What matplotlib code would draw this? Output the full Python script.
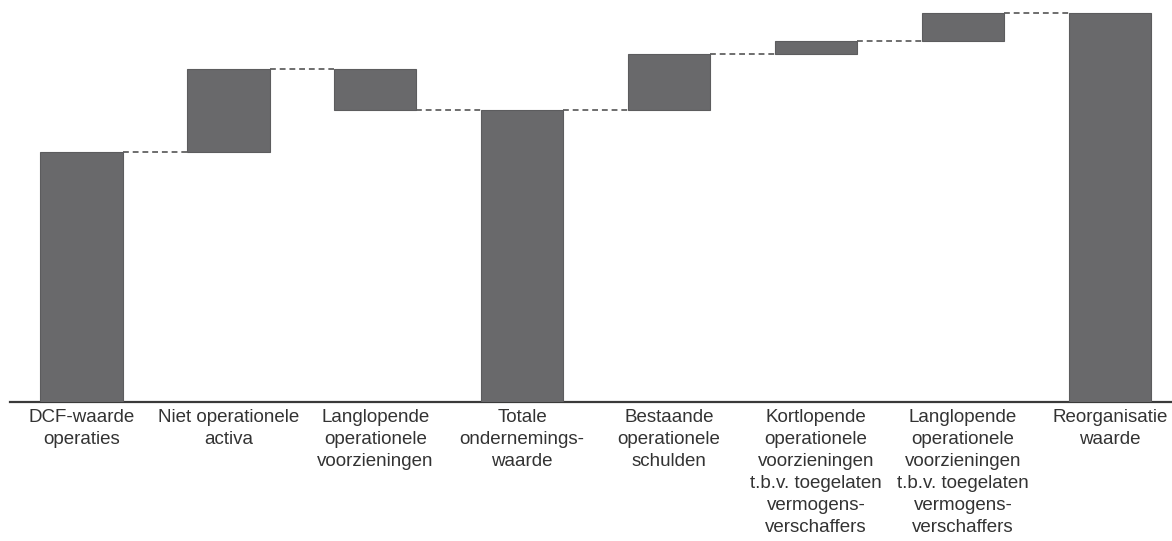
import matplotlib.pyplot as plt
import numpy as np

plt.rcParams['font.family'] = ['Liberation Sans', 'DejaVu Sans']

# Waterfall data (arbitrary units)
labels = [
    "DCF-waarde\noperaties",
    "Niet operationele\nactiva",
    "Langlopende\noperationele\nvoorzieningen",
    "Totale\nondernemings-\nwaarde",
    "Bestaande\noperationele\nschulden",
    "Kortlopende\noperationele\nvoorzieningen\nt.b.v. toegelaten\nvermogens-\nverschaffers",
    "Langlopende\noperationele\nvoorzieningen\nt.b.v. toegelaten\nvermogens-\nverschaffers",
    "Reorganisatie\nwaarde",
]
changes = [250, 83, -41, None, 56, 13, 28, None]   # None = subtotal bar

# Build bottoms/heights from the running total
bottoms, heights, levels = [], [], []
running = 0
for c in changes:
    if c is None:
        bottoms.append(0)
        heights.append(running)
    else:
        bottoms.append(min(running, running + c))
        heights.append(abs(c))
        running += c
    levels.append(running)

fig = plt.figure(figsize=(11.72, 5.41), dpi=100)
ax = fig.add_axes([10 / 1172, 139 / 541, 1162 / 1172, 402 / 541])

x = np.arange(len(labels))
width = 0.56
ax.bar(x, heights, bottom=bottoms, width=width, color='#69696b',
       edgecolor='#5c5c5e', linewidth=0.8, zorder=3)

# dashed connectors between bars
for i in range(len(labels) - 1):
    ax.plot([x[i] + width / 2, x[i + 1] - width / 2], [levels[i], levels[i]],
            color='#6e6e6e', linestyle=(0, (3, 2)), linewidth=1.4, zorder=2)

ax.set_xlim(-0.487, 7.423)
ax.set_ylim(0, 402)
ax.set_xticks(x)
ax.set_xticklabels(labels, fontsize=13.5, color='#333333', linespacing=1.38)
ax.tick_params(axis='x', length=0, pad=5)
ax.set_yticks([])
for s in ['top', 'left', 'right']:
    ax.spines[s].set_visible(False)
ax.spines['bottom'].set_color('#3a3a3a')
ax.spines['bottom'].set_linewidth(1.6)

fig.savefig("out.png", dpi=100)
